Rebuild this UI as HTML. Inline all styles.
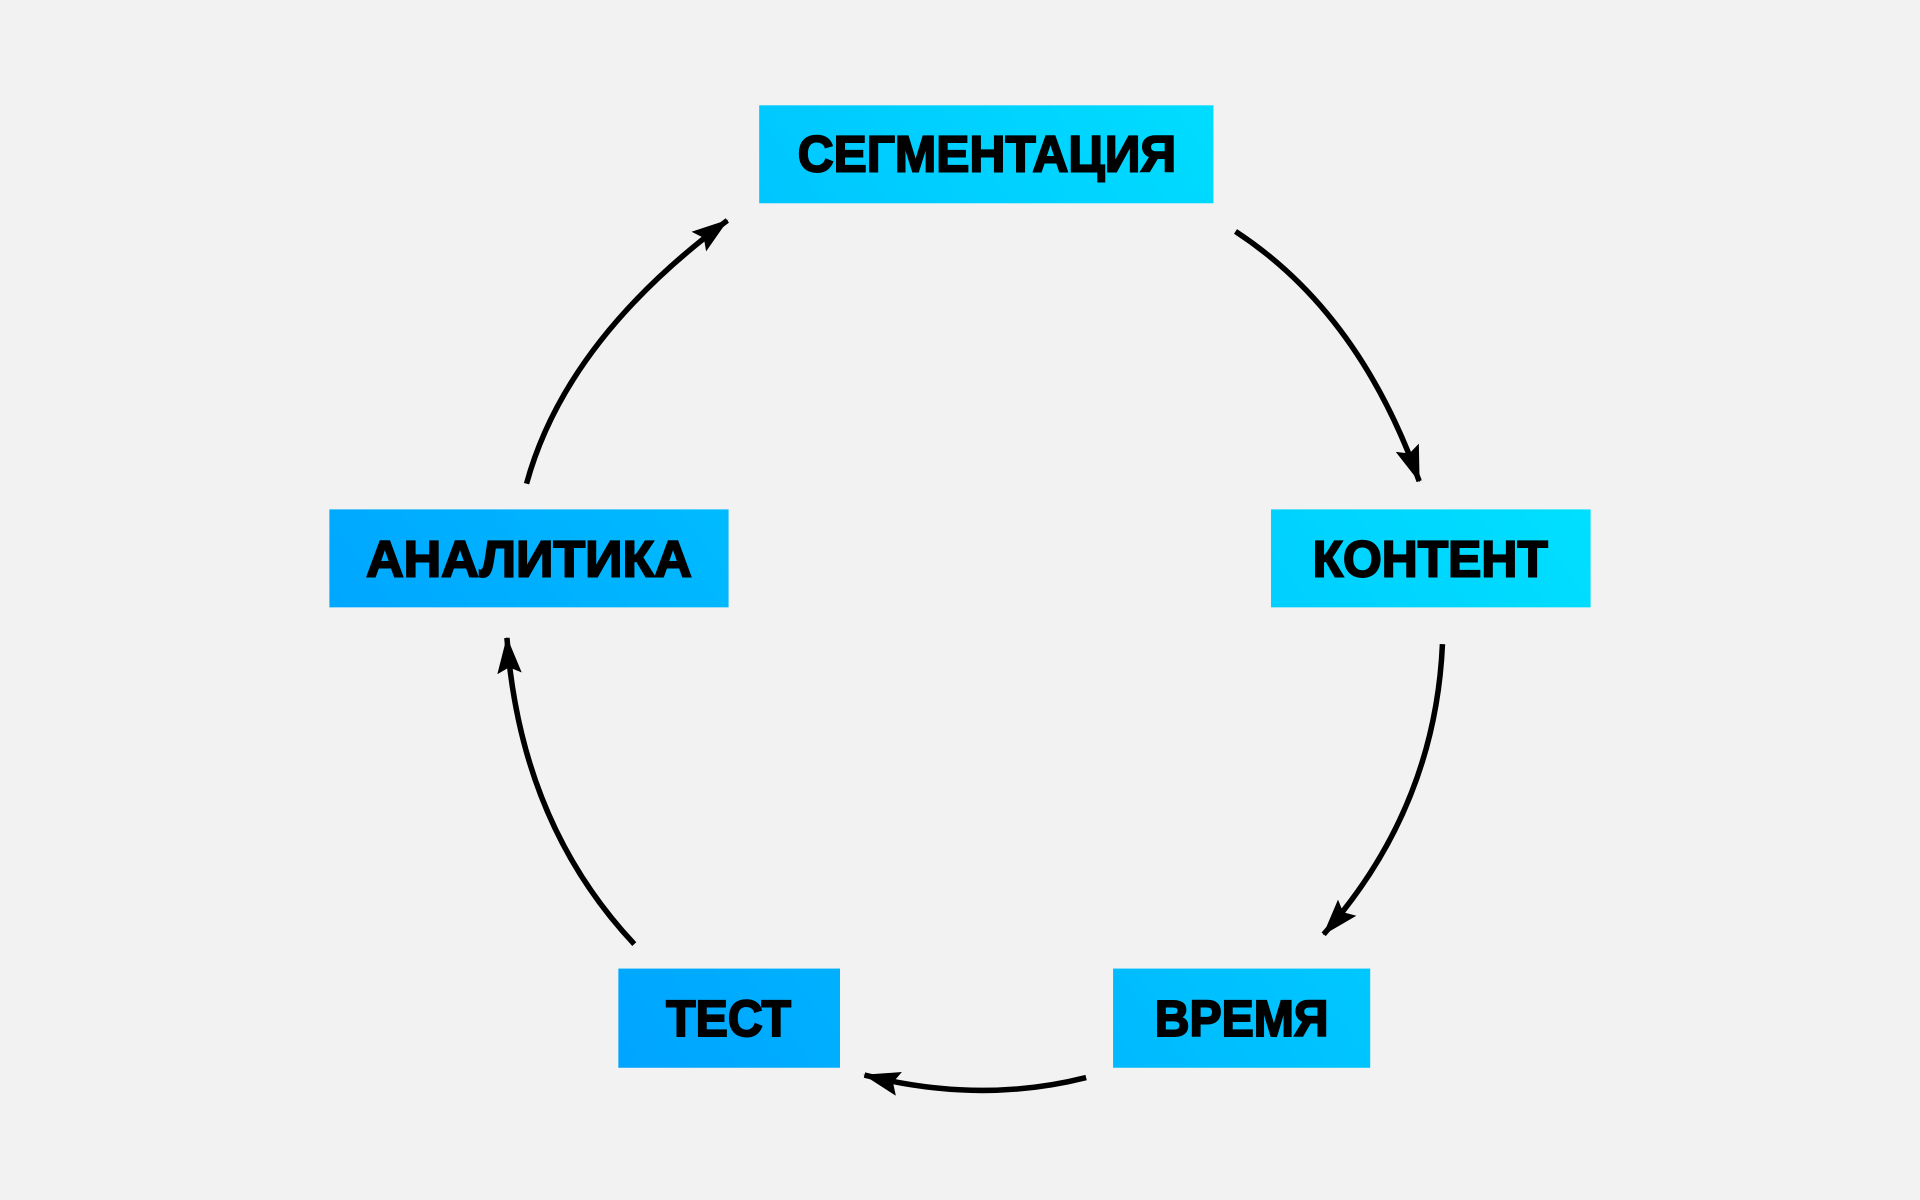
<!DOCTYPE html>
<html><head><meta charset="utf-8">
<style>html,body{margin:0;padding:0;background:#f2f2f2;}svg{display:block}</style>
</head><body>
<svg width="1920" height="1200" viewBox="0 0 1568 980" preserveAspectRatio="none" xmlns="http://www.w3.org/2000/svg">
<defs>
<linearGradient id="g" gradientUnits="userSpaceOnUse" x1="270" y1="870" x2="1300" y2="100">
<stop offset="0" stop-color="#0098ff"/><stop offset="1" stop-color="#00ecff"/>
</linearGradient>
<marker id="a" markerUnits="userSpaceOnUse" markerWidth="32" markerHeight="24" refX="29" refY="10" orient="auto">
<path d="M0,0 L30,10 L0,20 L5,10 Z" fill="#000"/>
</marker>
</defs>
<rect width="1568" height="980" fill="#f2f2f2"/>
<g fill="url(#g)">
<rect x="620" y="86" width="371" height="80"/>
<rect x="1038" y="416" width="261" height="80"/>
<rect x="269" y="416" width="326" height="80"/>
<rect x="505" y="791" width="181" height="81"/>
<rect x="909" y="791" width="210" height="81"/>
</g>
<g font-family="'Liberation Sans','DejaVu Sans',sans-serif" font-weight="bold" font-size="42" fill="#000" stroke="#000" stroke-width="1.6" text-anchor="middle">
<text x="806" y="140" textLength="309" lengthAdjust="spacingAndGlyphs">СЕГМЕНТАЦИЯ</text>
<text x="1168" y="471" textLength="192" lengthAdjust="spacingAndGlyphs">КОНТЕНТ</text>
<text x="432" y="471" textLength="266" lengthAdjust="spacingAndGlyphs">АНАЛИТИКА</text>
<text x="595" y="846" textLength="102" lengthAdjust="spacingAndGlyphs">ТЕСТ</text>
<text x="1014" y="846" textLength="142" lengthAdjust="spacingAndGlyphs">ВРЕМЯ</text>
</g>
<g fill="none" stroke="#000" stroke-width="4.5">
<path d="M1009,189 Q1110,255 1159,393" marker-end="url(#a)"/>
<path d="M1178,526 Q1172,660 1081,763" marker-end="url(#a)"/>
<path d="M887,880 Q800,902 706,878" marker-end="url(#a)"/>
<path d="M518,771 Q425,672 414,521" marker-end="url(#a)"/>
<path d="M430,395 Q462,278 594,180" marker-end="url(#a)"/>
</g>
</svg>
</body></html>
